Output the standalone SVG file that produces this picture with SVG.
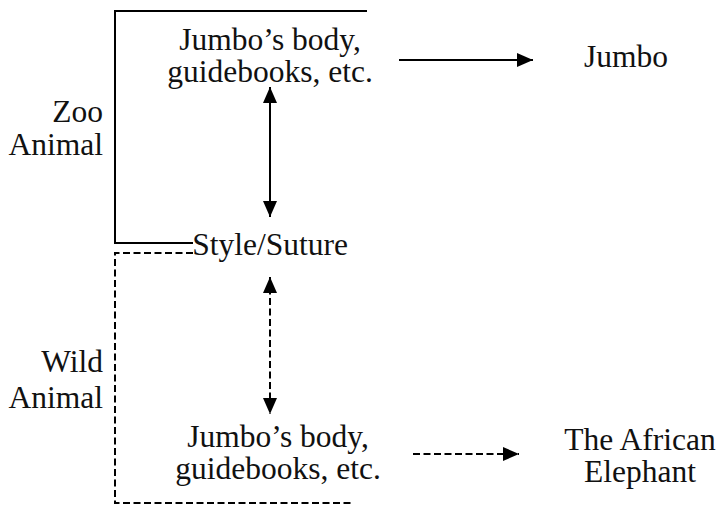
<svg xmlns="http://www.w3.org/2000/svg" width="717" height="506" viewBox="0 0 717 506">
  <style>
    text { font-family: "Liberation Serif", "Times New Roman", serif; font-size: 31.5px; fill: #111; }
    .mid { text-anchor: middle; }
    .end { text-anchor: end; }
    .solid { fill: none; stroke: #000; stroke-width: 2; }
    .dash { fill: none; stroke: #000; stroke-width: 2; stroke-dasharray: 7 3.5; }
  </style>
  <defs>
    <marker id="head" markerUnits="userSpaceOnUse" markerWidth="16" markerHeight="14" refX="16" refY="7" orient="auto-start-reverse">
      <path d="M0,0 L16,7 L0,14 Z" fill="#000"/>
    </marker>
  </defs>

  <!-- brackets grouping the two readings -->
  <g id="zoo-bracket">
    <path class="solid" d="M367,11 H115 V243 H193"/>
    <text class="end" x="103" y="122">Zoo</text>
    <text class="end" x="103" y="155">Animal</text>
  </g>
  <g id="wild-bracket">
    <path class="dash" d="M193,253 H115 V503 H353"/>
    <text class="end" x="103" y="372">Wild</text>
    <text class="end" x="103" y="408">Animal</text>
  </g>

  <g id="top-evidence">
    <text class="mid" x="270" y="50">Jumbo’s body,</text>
    <text class="mid" x="270" y="82">guidebooks, etc.</text>
  </g>
  <g id="jumbo">
    <text class="mid" x="626" y="67">Jumbo</text>
  </g>
  <g id="style-suture">
    <text class="mid" x="270" y="255">Style/Suture</text>
  </g>
  <g id="bottom-evidence">
    <text class="mid" x="278" y="447">Jumbo’s body,</text>
    <text class="mid" x="278" y="479">guidebooks, etc.</text>
  </g>
  <g id="african-elephant">
    <text class="mid" x="640" y="450">The African</text>
    <text class="mid" x="640" y="482">Elephant</text>
  </g>

  <g id="connectors">
    <line class="solid" x1="399" y1="60" x2="533" y2="60" marker-end="url(#head)"/>
    <line class="solid" x1="270" y1="87" x2="270" y2="217" marker-start="url(#head)" marker-end="url(#head)"/>
    <line class="dash" x1="270" y1="277" x2="270" y2="414" marker-start="url(#head)" marker-end="url(#head)"/>
    <line class="dash" x1="413" y1="454" x2="519" y2="454" marker-end="url(#head)"/>
  </g>
</svg>
